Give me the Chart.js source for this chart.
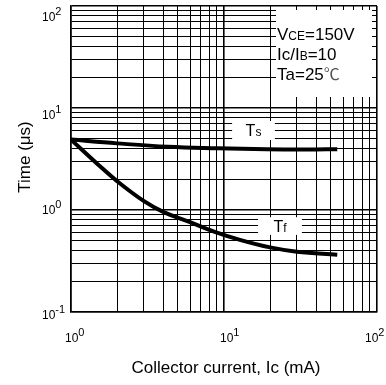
<!DOCTYPE html>
<html>
<head>
<meta charset="utf-8">
<script src="https://cdn.jsdelivr.net/npm/chart.js@4/dist/chart.umd.min.js"></script>
<style>
  html, body { margin: 0; padding: 0; background: #fff; }
  #wrap { width: 386px; height: 385px; position: relative; }
</style>
</head>
<body>
<div id="wrap"><canvas id="c" width="386" height="385"></canvas></div>
<script>
// ---- data ----
const currentTs = [1, 2, 4.3, 9, 19, 35, 55];          // Ic (mA)
const timeTs    = [4.9, 4.5, 4.17, 4.03, 3.94, 3.92, 3.95]; // Ts (us)
const currentTf = [1, 1.5, 2, 3, 4, 6, 8.7, 12.7, 20, 30, 55];
const timeTf    = [4.9, 2.8, 1.92, 1.22, 0.96, 0.76, 0.61, 0.51, 0.43, 0.39, 0.365];

const xDecadeExponents = [0, 1, 2];
const yDecadeExponents = [-1, 0, 1, 2];
const gridMantissas = [1, 2, 3, 4, 5, 6, 7, 8, 9];

const seriesLabels = ['Ts', 'Tf'];
const conditionLines = ['VCE=150V', 'Ic/IB=10', 'Ta=25℃'];
const xTitle = 'Collector current, Ic (mA)';
const yTitle = 'Time (μs)';

function gridValues(exps) {
  const out = [];
  for (let i = 0; i < exps.length - 1; i++) {
    for (const m of gridMantissas) out.push(m * Math.pow(10, exps[i]));
  }
  out.push(Math.pow(10, exps[exps.length - 1]));
  return out;
}
const xGrid = gridValues(xDecadeExponents);
const yGrid = gridValues(yDecadeExponents);

const FONT = 'Arial, "Liberation Sans", sans-serif';

function isDecade(v) {
  const l = Math.log10(v);
  return Math.abs(l - Math.round(l)) < 1e-9;
}

function drawPow(ctx, x, yMid, exp) {
  ctx.fillStyle = '#000';
  ctx.textBaseline = 'middle';
  ctx.textAlign = 'left';
  ctx.font = '12px ' + FONT;
  ctx.fillText('10', x, yMid);
  const w = ctx.measureText('10').width;
  ctx.font = '11px ' + FONT;
  ctx.fillText(String(exp), x + w, yMid - 6);
}

const overlay = {
  id: 'overlay',
  afterDatasetsDraw(chart) {
    const ctx = chart.ctx;
    const xs = chart.scales.x, ys = chart.scales.y;
    ctx.save();

    function labelBox(x0v, x1v, y0v, y1v, main, sub) {
      const l = xs.getPixelForValue(x0v), r = xs.getPixelForValue(x1v);
      const t = ys.getPixelForValue(y1v), b = ys.getPixelForValue(y0v);
      ctx.fillStyle = '#fff';
      ctx.fillRect(l, t, r - l, b - t);
      ctx.fillStyle = '#000';
      ctx.textBaseline = 'alphabetic';
      ctx.textAlign = 'left';
      ctx.font = '16px ' + FONT;
      const wm = ctx.measureText(main).width;
      ctx.font = '12px ' + FONT;
      const ws = ctx.measureText(sub).width;
      const cx = (l + r) / 2 - (wm + ws) / 2;
      const base = (t + b) / 2 + 5.5;
      ctx.font = '16px ' + FONT;
      ctx.fillText(main, cx, base);
      ctx.font = '12px ' + FONT;
      ctx.fillText(sub, cx + wm, base);
    }
    labelBox(11.3, 21.5, 4.86, 7.46, seriesLabels[0].charAt(0), seriesLabels[0].slice(1));
    labelBox(16.7, 32.3, 0.57, 0.85, seriesLabels[1].charAt(0), seriesLabels[1].slice(1));

    // conditions box
    ctx.fillStyle = '#fff';
    ctx.fillRect(276, 10, 96, 87);
    function mixed(parts, x, y) {
      let cx = x;
      for (const [txt, size] of parts) {
        ctx.font = size + 'px ' + FONT;
        ctx.fillText(txt, cx, y);
        cx += ctx.measureText(txt).width;
      }
    }
    ctx.fillStyle = '#000';
    ctx.textBaseline = 'alphabetic';
    ctx.textAlign = 'left';
    const l0 = conditionLines[0];
    mixed([[l0.slice(0, 1), 17], [l0.slice(1, 3), 12], [l0.slice(3), 17]], 277, 40);
    const l1 = conditionLines[1];
    mixed([[l1.slice(0, 4), 17], [l1.slice(4, 5), 12], [l1.slice(5), 17]], 277, 60);
    const l2 = conditionLines[2];
    ctx.font = '17px ' + FONT;
    const base2 = l2.slice(0, l2.length - 1);
    ctx.fillText(base2, 277, 80);
    const w2 = ctx.measureText(base2).width;
    ctx.fillStyle = '#555';
    ctx.font = '16px "Noto Sans CJK JP", ' + FONT;
    ctx.fillText(l2.slice(-1), 277 + w2, 80);
    ctx.restore();
  },
  afterDraw(chart) {
    const ctx = chart.ctx;
    const xs = chart.scales.x, ys = chart.scales.y;
    ctx.save();
    const yOff = { '2': 12, '1': 8, '0': 1, '-1': 4 };
    for (const e of yDecadeExponents) {
      const py = ys.getPixelForValue(Math.pow(10, e)) + yOff[String(e)];
      drawPow(ctx, 42, py, e);
    }
    const xOff = { '0': -6, '1': -4, '2': -12 };
    for (const e of xDecadeExponents) {
      const px = xs.getPixelForValue(Math.pow(10, e)) + xOff[String(e)];
      drawPow(ctx, px, 339, e);
    }
    ctx.fillStyle = '#000';
    ctx.font = '17px ' + FONT;
    ctx.textAlign = 'center';
    ctx.textBaseline = 'alphabetic';
    ctx.fillText(xTitle, 226, 373);
    ctx.save();
    ctx.translate(30, 157);
    ctx.rotate(-Math.PI / 2);
    ctx.fillText(yTitle, 0, 0);
    ctx.restore();
    ctx.restore();
  }
};

function pts(xa, ya) { return xa.map((x, i) => ({ x: x, y: ya[i] })); }

new Chart(document.getElementById('c'), {
  type: 'line',
  data: {
    datasets: [
      { label: seriesLabels[0], data: pts(currentTs, timeTs), borderColor: '#000', borderWidth: 4,
        pointRadius: 0, tension: 0.4, fill: false, borderCapStyle: 'butt' },
      { label: seriesLabels[1], data: pts(currentTf, timeTf), borderColor: '#000', borderWidth: 4,
        pointRadius: 0, tension: 0.4, fill: false, borderCapStyle: 'butt' }
    ]
  },
  options: {
    responsive: false,
    animation: false,
    events: [],
    layout: { padding: { left: 71, right: 9, top: 6, bottom: 73 } },
    plugins: { legend: { display: false }, tooltip: { enabled: false } },
    scales: {
      x: {
        type: 'logarithmic', min: 1, max: 100,
        afterBuildTicks: (s) => { s.ticks = xGrid.map(v => ({ value: v })); },
        ticks: { display: false },
        grid: { color: '#000', lineWidth: (c) => (c.tick && isDecade(c.tick.value) ? 1.6 : 1), drawTicks: false },
        border: { color: '#000', width: 1.5 }
      },
      y: {
        type: 'logarithmic', min: 0.1, max: 100,
        afterBuildTicks: (s) => { s.ticks = yGrid.map(v => ({ value: v })); },
        ticks: { display: false },
        grid: { color: '#000', lineWidth: (c) => (c.tick && isDecade(c.tick.value) ? 1.6 : 1), drawTicks: false },
        border: { color: '#000', width: 1.5 }
      }
    }
  },
  plugins: [overlay]
});
</script>
</body>
</html>
